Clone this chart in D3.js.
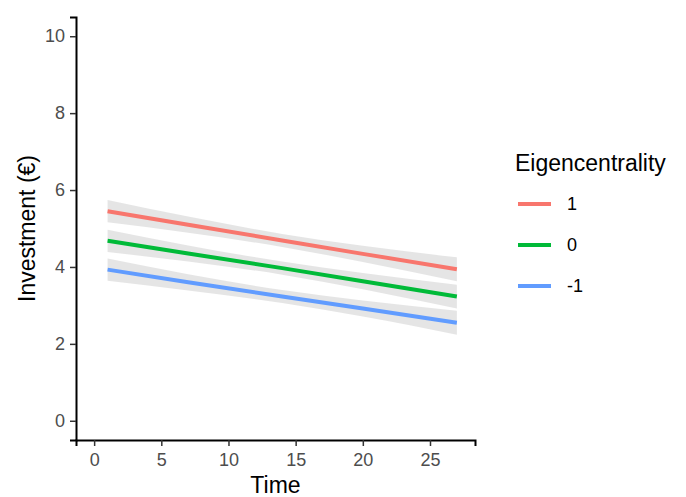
<!DOCTYPE html>
<html>
<head>
<meta charset="utf-8">
<script src="https://cdn.jsdelivr.net/npm/d3@7"></script>
<style>
  body { margin: 0; background: #fff; }
  text { font-family: "Liberation Sans", Arial, sans-serif; }
</style>
</head>
<body>
<div id="chart"></div>
<script>
// Data
const groups = ['1', '0', '-1'];
const colors = ['#F8766D', '#00BA38', '#619CFF'];
const timePoints = [1, 7, 14, 20, 27];
const fitRed = [5.45, 5.10, 4.69, 4.34, 3.94];
const fitGreen = [4.68, 4.35, 3.97, 3.63, 3.23];
const fitBlue = [3.93, 3.60, 3.23, 2.92, 2.55];
const bandHalf = [0.29, 0.21, 0.17, 0.21, 0.31];
const xTicks = [0, 5, 10, 15, 20, 25];
const yTicks = [0, 2, 4, 6, 8, 10];

const fits = [fitRed, fitGreen, fitBlue];

const width = 686, height = 497;
const margin = {left: 76, right: 211, top: 17, bottom: 57};

let svg = d3.select('#chart')
  .append('svg')
  .attr('width', width)
  .attr('height', height);

let xScale = d3.scaleLinear()
  .domain([-1.35, 28.35])
  .range([margin.left, width - margin.right]);

let yScale = d3.scaleLinear()
  .domain([-0.5, 10.5])
  .range([height - margin.bottom, margin.top]);

// ribbons + lines, drawn group by group
let area = d3.area()
  .x(d => xScale(d.t))
  .y0(d => yScale(d.lo))
  .y1(d => yScale(d.hi))
  .curve(d3.curveMonotoneX);

let line = d3.line()
  .x(d => xScale(d.t))
  .y(d => yScale(d.v));

groups.forEach(function(g, i) {
  let pts = timePoints.map(function(t, j) {
    return {t: t, v: fits[i][j], lo: fits[i][j] - bandHalf[j], hi: fits[i][j] + bandHalf[j]};
  });
  svg.append('path')
    .datum(pts)
    .attr('d', area)
    .attr('fill', '#999999')
    .attr('fill-opacity', 0.26);
  svg.append('path')
    .datum(pts)
    .attr('d', line)
    .attr('fill', 'none')
    .attr('stroke', colors[i])
    .attr('stroke-width', 4);
});

// axes
let xAxis = svg.append('g')
  .attr('transform', `translate(0,${height - margin.bottom})`)
  .call(d3.axisBottom(xScale).tickValues(xTicks).tickSize(6).tickPadding(4));

let yAxis = svg.append('g')
  .attr('transform', `translate(${margin.left},0)`)
  .call(d3.axisLeft(yScale).tickValues(yTicks).tickSize(6).tickPadding(5));

[xAxis, yAxis].forEach(function(ax) {
  ax.select('.domain').attr('stroke', '#000').attr('stroke-width', 2);
  ax.selectAll('.tick line').attr('stroke', '#333').attr('stroke-width', 1.5);
  ax.selectAll('.tick text')
    .attr('fill', '#4D4D4D')
    .style('font-size', '18px')
    .style('font-family', '"Liberation Sans", Arial, sans-serif');
});
xAxis.selectAll('.tick text').attr('dy', '0.9em');

// axis titles
svg.append('text')
  .attr('x', (margin.left + width - margin.right) / 2)
  .attr('y', 493)
  .attr('text-anchor', 'middle')
  .style('font-size', '23px')
  .text('Time');

svg.append('text')
  .attr('transform', `translate(35,${(margin.top + height - margin.bottom) / 2}) rotate(-90)`)
  .attr('text-anchor', 'middle')
  .style('font-size', '23px')
  .text('Investment (€)');

// legend
let legend = svg.append('g').attr('transform', 'translate(515,0)');
legend.append('text')
  .attr('x', 0)
  .attr('y', 171)
  .style('font-size', '23px')
  .text('Eigencentrality');

groups.forEach(function(g, i) {
  let y = 204 + i * 41;
  legend.append('line')
    .attr('x1', 3).attr('x2', 36)
    .attr('y1', y).attr('y2', y)
    .attr('stroke', colors[i])
    .attr('stroke-width', 4);
  legend.append('text')
    .attr('x', 52)
    .attr('y', y + 6)
    .style('font-size', '18px')
    .text(g);
});
</script>
</body>
</html>
